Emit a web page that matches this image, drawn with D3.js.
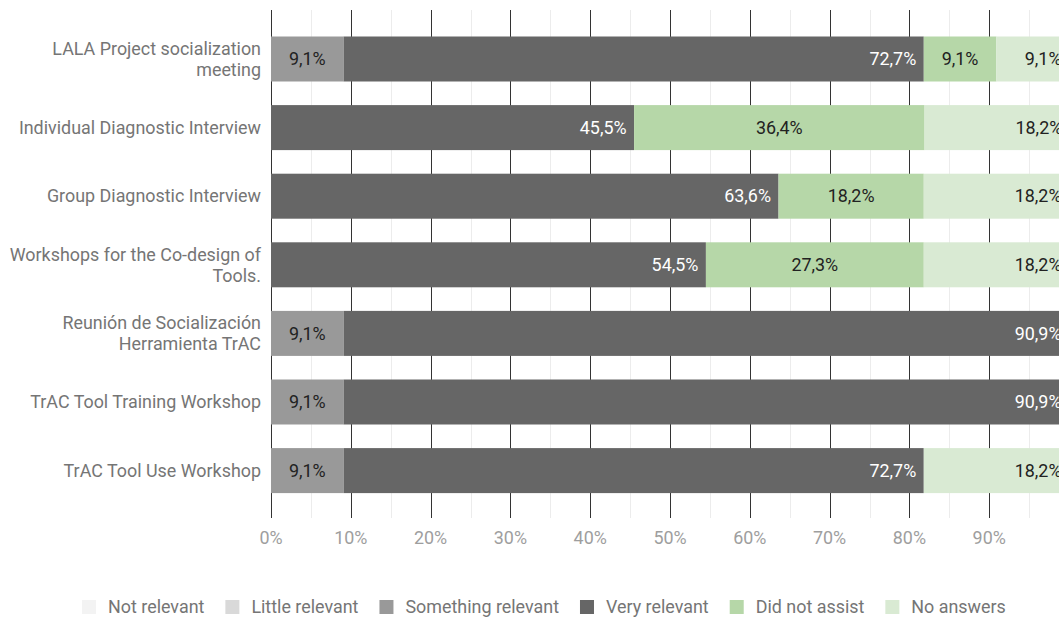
<!DOCTYPE html>
<html>
<head>
<meta charset="utf-8">
<script src="https://cdn.jsdelivr.net/npm/d3@7"></script>
<style>
  html, body { margin: 0; padding: 0; background: #fff; overflow: hidden; }
  svg { display: block; font-family: Roboto, "Noto Sans", sans-serif; }
</style>
</head>
<body>
<svg id="chart" width="1059" height="618"></svg>
<script>
// Activities (each entry is the wrapped label lines)
const categories = [
  ["LALA Project socialization", "meeting"],
  ["Individual Diagnostic Interview"],
  ["Group Diagnostic Interview"],
  ["Workshops for the Co-design of", "Tools."],
  ["Reunión de Socialización", "Herramienta TrAC"],
  ["TrAC Tool Training Workshop"],
  ["TrAC Tool Use Workshop"]
];

// Share of answers per activity (%)
const notRelevant       = [0, 0, 0, 0, 0, 0, 0];
const littleRelevant    = [0, 0, 0, 0, 0, 0, 0];
const somethingRelevant = [9.1, 0, 0, 0, 9.1, 9.1, 9.1];
const veryRelevant      = [72.7, 45.5, 63.6, 54.5, 90.9, 90.9, 72.7];
const didNotAssist      = [9.1, 36.4, 18.2, 27.3, 0, 0, 0];
const noAnswers         = [9.1, 18.2, 18.2, 18.2, 0, 0, 18.2];

const seriesNames = ["Not relevant", "Little relevant", "Something relevant", "Very relevant", "Did not assist", "No answers"];
const seriesColors = ["#f3f3f3", "#d9d9d9", "#999999", "#666666", "#b6d7a8", "#d9ead3"];
const xTicks = [0, 10, 20, 30, 40, 50, 60, 70, 80, 90];
const xMinor = [5, 15, 25, 35, 45, 55, 65, 75, 85, 95];

const FONT = 17.9;

const seriesValues = [notRelevant, littleRelevant, somethingRelevant, veryRelevant, didNotAssist, noAnswers];
const keys = seriesNames;
const rows = categories.map((c, i) => {
  const r = { name: c.join(" "), lines: c };
  keys.forEach((k, j) => { r[k] = seriesValues[j][i]; });
  return r;
});

const svg = d3.select("#chart");
const x = d3.scaleLinear().domain([0, 100]).range([271, 1069]);
const y = d3.scaleBand().domain(rows.map(d => d.name)).range([24.7, 504.9]).paddingInner(0.344).paddingOuter(0.172);
const color = d3.scaleOrdinal().domain(keys).range(seriesColors);

const gridTop = 10, gridBottom = 518;

// minor gridlines
svg.append("g").selectAll("line").data(xMinor).join("line")
  .attr("x1", d => Math.round(x(d)) + 0.5).attr("x2", d => Math.round(x(d)) + 0.5)
  .attr("y1", gridTop).attr("y2", gridBottom)
  .attr("stroke", "#ececec").attr("stroke-width", 1);

// major gridlines
svg.append("g").selectAll("line").data(xTicks).join("line")
  .attr("x1", d => Math.round(x(d)) + 0.5).attr("x2", d => Math.round(x(d)) + 0.5)
  .attr("y1", gridTop).attr("y2", gridBottom)
  .attr("stroke", "#333333").attr("stroke-width", 1);

// x tick labels
svg.append("g").selectAll("text").data(xTicks).join("text")
  .attr("x", d => x(d)).attr("y", 538).attr("dy", "0.35em")
  .attr("text-anchor", "middle")
  .attr("font-size", FONT).attr("fill", "#9e9e9e")
  .text(d => d + "%");

// stacked bars
const stacked = d3.stack().keys(keys)(rows);
const fmt = v => d3.format(".1f")(v).replace(".", ",") + "%";

const layers = svg.append("g").selectAll("g").data(stacked).join("g")
  .attr("fill", d => color(d.key));

layers.selectAll("rect").data(d => d.map(s => ({ s, key: d.key }))).join("rect")
  .attr("x", d => x(d.s[0]))
  .attr("width", d => Math.max(0, x(d.s[1]) - x(d.s[0])))
  .attr("y", d => y(d.s.data.name))
  .attr("height", y.bandwidth());

// value labels
const labelData = [];
stacked.forEach(layer => {
  layer.forEach(s => {
    const v = s[1] - s[0];
    if (v > 0) labelData.push({ key: layer.key, s, v });
  });
});
const endAligned = k => k === "Very relevant" || k === "No answers";

svg.append("g").selectAll("text").data(labelData).join("text")
  .attr("x", d => endAligned(d.key) ? x(d.s[1]) - 7.5 : (x(d.s[0]) + x(d.s[1])) / 2)
  .attr("y", d => y(d.s.data.name) + y.bandwidth() / 2)
  .attr("dy", "0.35em")
  .attr("text-anchor", d => endAligned(d.key) ? "end" : "middle")
  .attr("font-size", FONT)
  .attr("fill", d => d.key === "Very relevant" ? "#ffffff" : "#222222")
  .text(d => fmt(d.v));

// category labels
const cat = svg.append("g").selectAll("text").data(rows).join("text")
  .attr("text-anchor", "end")
  .attr("font-size", FONT)
  .attr("fill", "#757575");
cat.each(function(d) {
  const t = d3.select(this);
  const cy = y(d.name) + y.bandwidth() / 2;
  const lh = 21;
  const y0 = cy - (d.lines.length - 1) * lh / 2;
  d.lines.forEach((line, i) => {
    t.append("tspan").attr("x", 261).attr("y", y0 + i * lh).attr("dy", "0.35em").text(line);
  });
});

// legend
const legend = svg.append("g");
let lx = 82;
seriesNames.forEach((name, i) => {
  const g = legend.append("g");
  g.append("rect").attr("x", lx).attr("y", 600).attr("width", 14).attr("height", 14)
    .attr("fill", seriesColors[i]);
  const t = g.append("text").attr("x", lx + 26).attr("y", 607).attr("dy", "0.35em")
    .attr("font-size", FONT).attr("fill", "#757575").text(name);
  lx += 26 + t.node().getComputedTextLength() + 21;
});
</script>
</body>
</html>
